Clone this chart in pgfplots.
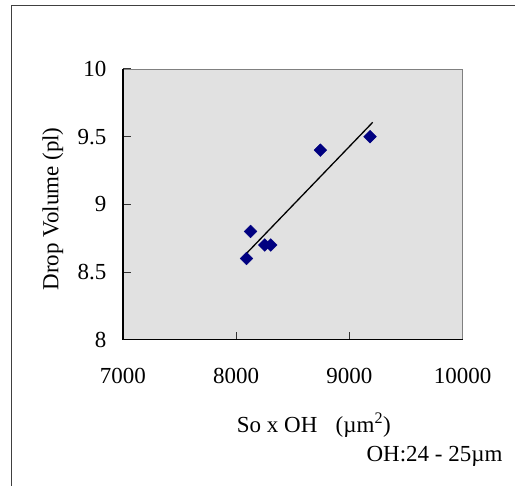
\documentclass[border=0pt]{standalone}
\usepackage{pgfplots}
\pgfplotsset{compat=1.18}
\usepackage{fontspec}
\setmainfont{Liberation Serif}
\definecolor{plotbg}{RGB}{225,225,225}
\definecolor{markblue}{RGB}{0,0,128}

\begin{document}
\begin{tikzpicture}
\begin{axis}[
    scale only axis,
    width=340pt, height=271pt,
    xmin=7000, xmax=10000,
    ymin=8, ymax=10,
    xtick={7000,8000,9000,10000},
    ytick={8,8.5,9,9.5,10},
    scaled ticks=false,
    xtick pos=bottom, ytick pos=left,
    tick align=inside,
    major tick length=8pt,
    tick style={black!80, line width=0.9pt},
    axis line style={draw=none},
    axis background/.style={fill=plotbg},
    /pgf/number format/assume math mode=true,
    /pgf/number format/1000 sep={},
    tick label style={font=\fontsize{23}{27}\selectfont},
    xticklabel style={yshift=-25pt},
    yticklabel style={xshift=-13pt},
    xlabel={So x OH\hspace{0.8em}(µm\textsuperscript{2})},
    xlabel style={font=\fontsize{23}{27}\selectfont, at={(rel axis cs:0.562,-0.3137)}, anchor=center},
    ylabel={Drop Volume (pl)},
    ylabel style={font=\fontsize{23}{27}\selectfont, at={(rel axis cs:-0.206,0.483)}, anchor=center},
    clip=false,
]
% trend line
\addplot[black, line width=1.3pt] coordinates {(8071,8.62) (9206,9.606)};
% data
\addplot[only marks, mark=square*, mark size=4.5pt, mark options={rotate=45, fill=markblue, draw=markblue}]
    coordinates {
    (8091,8.6) (8127,8.8) (8253,8.7) (8306,8.7) (8744,9.4) (9182,9.5)
};
\draw[gray, line width=0.8pt] (rel axis cs:0,1) -- (rel axis cs:1,1) -- (rel axis cs:1,0);
\draw[black, line width=1.3pt] (rel axis cs:0,1) -- (rel axis cs:0,0) -- (rel axis cs:1,0);
\end{axis}
\draw[black!75, line width=0.8pt] (-112pt,-146pt) -- (-112pt,335pt) -- (392pt,335pt);
\node[anchor=east, font=\fontsize{23}{27}\selectfont, inner sep=0pt] at (380pt,-117pt) {OH:24 - 25µm};
\path[use as bounding box] (-123pt,-146pt) rectangle (392pt,340pt);
\end{tikzpicture}
\end{document}
